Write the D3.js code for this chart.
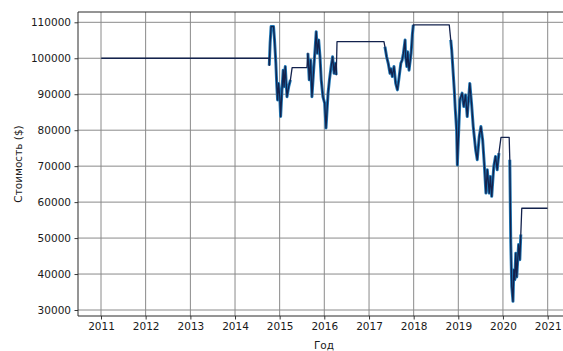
<!DOCTYPE html>
<html>
<head>
<meta charset="utf-8">
<script src="https://cdn.jsdelivr.net/npm/d3@7"></script>
<style>
  html, body { margin: 0; padding: 0; background: #fff; overflow: hidden; }
  svg { display: block; }
  text { font-family: "DejaVu Sans", sans-serif; fill: #1a1a1a; }
</style>
</head>
<body>
<svg id="chart" width="563" height="351"></svg>
<script>
// Portfolio value over time (dates and values)
const dates = [
  "2011-01-03", "2014-10-07", "2014-10-08", "2014-10-15", "2014-10-23", "2014-11-12",
  "2014-11-20", "2014-12-01", "2014-12-09", "2014-12-15", "2014-12-23", "2015-01-02",
  "2015-01-09", "2015-01-20", "2015-01-30", "2015-02-06", "2015-02-16", "2015-03-02",
  "2015-03-16", "2015-03-30", "2015-04-13", "2015-08-12", "2015-08-20", "2015-08-31",
  "2015-09-11", "2015-09-22", "2015-10-06", "2015-10-19", "2015-10-27", "2015-11-04",
  "2015-11-16", "2015-11-27", "2015-12-07", "2015-12-21", "2016-01-04", "2016-01-15",
  "2016-02-01", "2016-02-12", "2016-02-26", "2016-03-09", "2016-03-21", "2016-03-31",
  "2016-04-08", "2016-04-14", "2017-05-03", "2017-05-11", "2017-05-25", "2017-06-07",
  "2017-06-21", "2017-06-29", "2017-07-10", "2017-07-24", "2017-08-07", "2017-08-21",
  "2017-09-01", "2017-09-18", "2017-09-29", "2017-10-09", "2017-10-23", "2017-10-27",
  "2017-11-06", "2017-11-13", "2017-11-24", "2017-12-11", "2017-12-21", "2017-12-29",
  "2018-10-19", "2018-10-31", "2018-11-08", "2018-11-29", "2018-12-07", "2018-12-18",
  "2018-12-24", "2019-01-14", "2019-02-01", "2019-02-15", "2019-03-01", "2019-03-15",
  "2019-04-05", "2019-04-19", "2019-05-03", "2019-05-23", "2019-06-05", "2019-06-21",
  "2019-07-05", "2019-07-19", "2019-08-01", "2019-08-15", "2019-08-26", "2019-09-11",
  "2019-09-20", "2019-10-01", "2019-10-18", "2019-11-01", "2019-11-15", "2019-11-29",
  "2019-12-16", "2020-02-21", "2020-02-26", "2020-03-05", "2020-03-13", "2020-03-23",
  "2020-03-30", "2020-04-07", "2020-04-15", "2020-04-23", "2020-05-08", "2020-05-18",
  "2020-05-26", "2020-06-03", "2020-12-31"
];
const values = [
  100000, 100000, 98000, 104200, 108800, 108800,
  105100, 98600, 92100, 88400, 93000, 89300,
  83800, 91200, 96700, 92100, 97700, 89300,
  92100, 94000, 97400, 97400, 101400, 94000,
  99500, 89300, 96700, 103200, 107400, 101400,
  105100, 100400, 94000, 89300, 87500, 80600,
  90300, 94000, 97700, 100400, 95800, 98600,
  95400, 104600, 104600, 103200, 100400, 98600,
  95800, 97100, 94900, 97700, 93000, 91200,
  94000, 98600, 99500, 101400, 105100, 100400,
  97700, 101800, 96700, 101400, 106500, 109300,
  109300, 105100, 102300, 91200, 86000, 80000,
  70300, 88400, 90300, 86600, 89800, 83800,
  93000, 87500, 81000, 74500, 71800, 78200,
  81000, 77300, 70800, 62500, 69000, 62500,
  67100, 61600, 69900, 72700, 69000, 73600,
  78000, 78000, 71800, 48700, 36500, 32400,
  41200, 38400, 45800, 39200, 48200, 44000,
  51000, 58300, 58300
];
// Periods with an open position (value moves with the market)
const heldFrom = ["2014-10-08", "2015-08-13", "2017-05-04", "2018-10-20", "2020-02-22"];
const heldTo   = ["2015-04-12", "2016-04-13", "2017-12-29", "2019-12-15", "2020-06-02"];

const yTicks = [30000, 40000, 50000, 60000, 70000, 80000, 90000, 100000, 110000];
const xTickYears = [2011, 2012, 2013, 2014, 2015, 2016, 2017, 2018, 2019, 2020, 2021];

const xLabel = "Год";
const yLabel = "Стоимость ($)";

const parse = d3.timeParse("%Y-%m-%d");
const data = dates.map((d, i) => ({ date: parse(d), value: values[i] }));
const held = heldFrom.map((d, i) => [parse(d), parse(heldTo[i])]);
const heldSeries = held.map(([a, b]) => data.filter(d => d.date >= a && d.date <= b));

const svg = d3.select("#chart");

// plot frame
const plotLeft = 78, plotTop = 12, plotBottom = 316;
const x = d3.scaleTime()
  .domain([new Date(2011, 0, 1), new Date(2021, 0, 1)])
  .range([101, 547.7]);
const plotRight = x(new Date(2021, 6, 2));
const y = d3.scaleLinear().domain([30000, 110000]).range([310, 22.3]);

const xTicks = xTickYears.map(yr => new Date(yr, 0, 1));

const clipId = "plot-clip";
svg.append("defs").append("clipPath").attr("id", clipId)
  .append("rect").attr("x", plotLeft).attr("y", plotTop)
  .attr("width", plotRight - plotLeft).attr("height", plotBottom - plotTop);

// grid
const grid = svg.append("g").attr("clip-path", `url(#${clipId})`);
grid.selectAll("line.v").data(xTicks).join("line")
  .attr("class", "v")
  .attr("x1", d => x(d)).attr("x2", d => x(d))
  .attr("y1", plotTop).attr("y2", plotBottom)
  .attr("stroke", "#8a8a8a").attr("stroke-width", 1);
grid.selectAll("line.h").data(yTicks).join("line")
  .attr("class", "h")
  .attr("x1", plotLeft).attr("x2", plotRight)
  .attr("y1", d => y(d)).attr("y2", d => y(d))
  .attr("stroke", "#8a8a8a").attr("stroke-width", 1);

// series
const plot = svg.append("g").attr("clip-path", `url(#${clipId})`);
const line = d3.line().x(d => x(d.date)).y(d => y(d.value));

plot.selectAll("path.held").data(heldSeries).join("path")
  .attr("class", "held")
  .attr("d", line)
  .attr("fill", "none")
  .attr("stroke", "#1f77b4")
  .attr("stroke-width", 3)
  .attr("stroke-linejoin", "round");
plot.append("path").datum(data)
  .attr("d", line)
  .attr("fill", "none")
  .attr("stroke", "#13224d")
  .attr("stroke-width", 1.3)
  .attr("stroke-linejoin", "round");

// axes
const xAxis = d3.axisBottom(x).tickValues(xTicks)
  .tickFormat(d3.timeFormat("%Y")).tickSizeOuter(0).tickSize(3.5).tickPadding(3.5);
const yAxis = d3.axisLeft(y).tickValues(yTicks)
  .tickFormat(d3.format("d")).tickSizeOuter(0).tickSize(3.5).tickPadding(3.5);

const gx = svg.append("g").attr("transform", `translate(0,${plotBottom})`).call(xAxis);
const gy = svg.append("g").attr("transform", `translate(${plotLeft},0)`).call(yAxis);
[gx, gy].forEach(g => {
  g.select(".domain").remove();
  g.selectAll(".tick line").attr("stroke", "#222").attr("stroke-width", 0.9);
  g.selectAll(".tick text").attr("font-size", 10.5).attr("fill", "#1a1a1a")
    .style("font-family", "'DejaVu Sans', sans-serif");
});

// spines
const spines = svg.append("g").attr("stroke", "#2a2a2a").attr("stroke-width", 1);
spines.append("line").attr("x1", plotLeft).attr("x2", plotLeft).attr("y1", plotTop).attr("y2", plotBottom);
spines.append("line").attr("x1", plotLeft).attr("x2", plotRight).attr("y1", plotTop).attr("y2", plotTop);
spines.append("line").attr("x1", plotLeft).attr("x2", plotRight).attr("y1", plotBottom).attr("y2", plotBottom);
spines.append("line").attr("x1", plotRight).attr("x2", plotRight).attr("y1", plotTop).attr("y2", plotBottom);

// axis titles
svg.append("text")
  .attr("x", (plotLeft + plotRight) / 2).attr("y", 349)
  .attr("text-anchor", "middle").attr("font-size", 10.5)
  .text(xLabel);
svg.append("text")
  .attr("transform", `translate(22,${(plotTop + plotBottom) / 2}) rotate(-90)`)
  .attr("text-anchor", "middle").attr("font-size", 10.5)
  .text(yLabel);
</script>
</body>
</html>
